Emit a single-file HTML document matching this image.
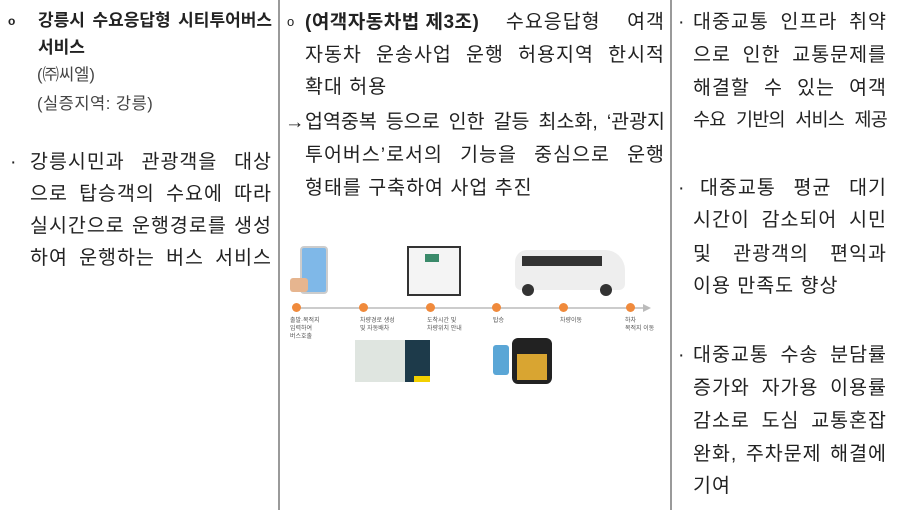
<!DOCTYPE html>
<html><head><meta charset="utf-8"><style>
body{margin:0;width:900px;height:510px;background:#fff;position:relative;overflow:hidden;font-family:"Liberation Sans","Noto Sans CJK KR","NanumGothic",sans-serif;color:#222}
.l{position:absolute;font-size:19.5px;letter-spacing:1px;line-height:24px;height:24px;white-space:nowrap}
.j{text-align:justify;text-align-last:justify;white-space:normal}
.v{position:absolute;top:0;width:2px;height:510px;background:#9a9a9a}
.dot{position:absolute;width:9px;height:9px;border-radius:50%;background:#f08a3c}
.cap{position:absolute;font-size:6px;line-height:8px;color:#555}
</style></head><body>
<div class="v" style="left:278px"></div>
<div class="v" style="left:670px"></div>

<!-- col1 -->
<div class="l" style="left:8px;top:9px;font-weight:bold;font-size:12px">o</div>
<div class="l j" style="left:38px;top:9px;width:234px;font-weight:bold;font-size:17px;letter-spacing:0">강릉시 수요응답형 시티투어버스</div>
<div class="l" style="left:38px;top:36px;font-weight:bold;font-size:17px;letter-spacing:0">서비스</div>
<div class="l" style="left:37px;top:63px;font-size:16.5px;letter-spacing:0;color:#444">(㈜씨엘)</div>
<div class="l" style="left:37px;top:92px;font-size:16.5px;letter-spacing:0.5px;color:#444">(실증지역: 강릉)</div>
<div class="l" style="left:10px;top:150px">·</div>
<div class="l j" style="left:30px;top:150px;width:242px">강릉시민과 관광객을 대상</div>
<div class="l j" style="left:30px;top:182px;width:242px">으로 탑승객의 수요에 따라</div>
<div class="l j" style="left:30px;top:214px;width:242px">실시간으로 운행경로를 생성</div>
<div class="l j" style="left:30px;top:246px;width:242px">하여 운행하는 버스 서비스</div>

<!-- col2 -->
<div class="l" style="left:287px;top:10px;font-size:13px">o</div>
<div class="l j" style="left:305px;top:10px;width:360px"><b style="letter-spacing:0.5px;display:inline-block;white-space:nowrap;font-size:19px">(여객자동차법 제3조)</b> 수요응답형 여객</div>
<div class="l j" style="left:305px;top:43px;width:360px">자동차 운송사업 운행 허용지역 한시적</div>
<div class="l" style="left:305px;top:75px">확대 허용</div>
<div class="l" style="left:285px;top:110px">→</div>
<div class="l j" style="left:305px;top:110px;width:360px;letter-spacing:0">업역중복 등으로 인한 갈등 최소화, ‘관광지</div>
<div class="l j" style="left:305px;top:143px;width:360px">투어버스’로서의 기능을 중심으로 운행</div>
<div class="l" style="left:305px;top:176px">형태를 구축하여 사업 추진</div>

<!-- diagram -->
<div style="position:absolute;left:293px;top:307px;width:350px;height:2px;background:#ccc"></div>
<div style="position:absolute;left:643px;top:304px;border-left:8px solid #bbb;border-top:4px solid transparent;border-bottom:4px solid transparent"></div>
<div class="dot" style="left:292px;top:303px"></div>
<div class="dot" style="left:359px;top:303px"></div>
<div class="dot" style="left:426px;top:303px"></div>
<div class="dot" style="left:492px;top:303px"></div>
<div class="dot" style="left:559px;top:303px"></div>
<div class="dot" style="left:626px;top:303px"></div>
<div class="cap" style="left:290px;top:317px">출발·목적지<br>입력하여<br>버스호출</div>
<div class="cap" style="left:360px;top:317px">차량경로 생성<br>및 자동배차</div>
<div class="cap" style="left:427px;top:317px">도착시간 및<br>차량위치 안내</div>
<div class="cap" style="left:493px;top:317px">탑승</div>
<div class="cap" style="left:560px;top:317px">차량이동</div>
<div class="cap" style="left:625px;top:317px">하차<br>목적지 이동</div>
<div style="position:absolute;left:300px;top:246px;width:24px;height:44px;background:#7fb8e8;border:2px solid #ccc;border-radius:4px"></div>
<div style="position:absolute;left:290px;top:278px;width:18px;height:14px;background:#e6b58f;border-radius:3px"></div>
<div style="position:absolute;left:407px;top:246px;width:50px;height:46px;background:#f4f4f4;border:2px solid #333"></div>
<div style="position:absolute;left:425px;top:254px;width:14px;height:8px;background:#3a8a6a"></div>
<div style="position:absolute;left:515px;top:250px;width:110px;height:40px;background:#eee;border-radius:12px 20px 6px 6px"></div>
<div style="position:absolute;left:522px;top:256px;width:80px;height:10px;background:#333"></div>
<div style="position:absolute;left:522px;top:284px;width:12px;height:12px;border-radius:50%;background:#333"></div>
<div style="position:absolute;left:600px;top:284px;width:12px;height:12px;border-radius:50%;background:#333"></div>
<div style="position:absolute;left:355px;top:340px;width:50px;height:42px;background:#dfe5e0"></div>
<div style="position:absolute;left:405px;top:340px;width:25px;height:42px;background:#1d3a4a"></div>
<div style="position:absolute;left:414px;top:376px;width:16px;height:6px;background:#f2d000"></div>
<div style="position:absolute;left:493px;top:345px;width:16px;height:30px;background:#5aa6d6;border-radius:3px"></div>
<div style="position:absolute;left:512px;top:338px;width:40px;height:46px;background:#222;border-radius:6px"></div>
<div style="position:absolute;left:517px;top:354px;width:30px;height:26px;background:#d9a531"></div>

<!-- col3 -->
<div class="l" style="left:678px;top:10px">·</div>
<div class="l j" style="left:693px;top:10px;width:194px">대중교통 인프라 취약</div>
<div class="l j" style="left:693px;top:43px;width:194px">으로 인한 교통문제를</div>
<div class="l j" style="left:693px;top:76px;width:194px">해결할 수 있는 여객</div>
<div class="l j" style="left:693px;top:108px;width:194px;font-size:18.5px;letter-spacing:-0.8px">수요 기반의 서비스 제공</div>
<div class="l" style="left:678px;top:176px">·</div>
<div class="l j" style="left:700px;top:176px;width:187px">대중교통 평균 대기</div>
<div class="l j" style="left:693px;top:208px;width:194px">시간이 감소되어 시민</div>
<div class="l j" style="left:693px;top:242px;width:194px">및 관광객의 편익과</div>
<div class="l" style="left:693px;top:274px">이용 만족도 향상</div>
<div class="l" style="left:678px;top:343px">·</div>
<div class="l j" style="left:693px;top:343px;width:194px">대중교통 수송 분담률</div>
<div class="l j" style="left:693px;top:376px;width:194px">증가와 자가용 이용률</div>
<div class="l j" style="left:693px;top:409px;width:194px">감소로 도심 교통혼잡</div>
<div class="l j" style="left:693px;top:442px;width:194px">완화, 주차문제 해결에</div>
<div class="l" style="left:693px;top:474px">기여</div>
</body></html>
